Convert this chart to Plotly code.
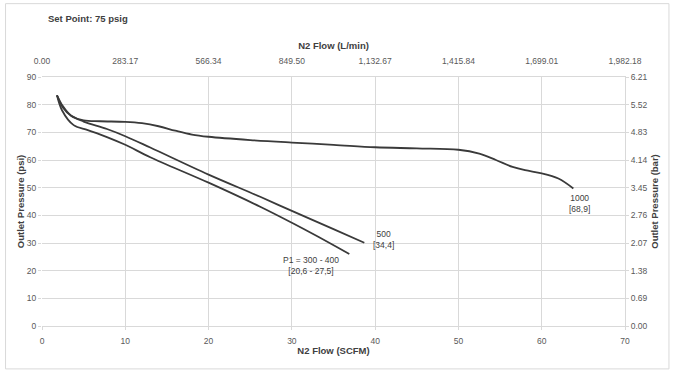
import plotly.graph_objects as go

# ---- data ----
scfm_1000 = [1.8, 2.5, 3.5, 5.0, 7.0, 10.0, 12.0, 14.0, 16.0, 18.0, 20.0, 25.0, 30.0, 35.0, 40.0, 45.0, 50.0, 52.5, 54.5, 56.5, 58.0, 60.0, 62.0, 63.8]
psi_1000 = [83.4, 79.0, 76.0, 74.3, 74.0, 73.8, 73.3, 72.2, 70.6, 69.2, 68.4, 67.2, 66.3, 65.5, 64.6, 64.2, 63.7, 62.3, 60.0, 57.5, 56.3, 55.2, 53.3, 49.7]

scfm_500 = [1.8, 2.5, 3.5, 5.0, 7.8, 10.0, 13.0, 20.0, 26.2, 30.0, 35.0, 38.7]
psi_500 = [83.4, 79.5, 76.0, 73.9, 71.2, 68.6, 64.5, 54.7, 46.7, 41.6, 35.0, 30.1]

scfm_p1 = [1.8, 2.4, 3.8, 5.5, 7.8, 10.0, 13.0, 20.0, 26.2, 30.0, 33.0, 36.9]
psi_p1 = [83.4, 78.0, 72.6, 70.8, 68.3, 65.5, 61.0, 51.8, 43.1, 37.3, 32.5, 26.0]

x_ticks = [0, 10, 20, 30, 40, 50, 60, 70]
lpm_ticks = [0.00, 283.17, 566.34, 849.50, 1132.67, 1415.84, 1699.01, 1982.18]
lpm_labels = ["0.00", "283.17", "566.34", "849.50", "1,132.67", "1,415.84", "1,699.01", "1,982.18"]
y_ticks = [0, 10, 20, 30, 40, 50, 60, 70, 80, 90]
bar_ticks = [0.00, 0.69, 1.38, 2.07, 2.76, 3.45, 4.14, 4.83, 5.52, 6.21]
bar_labels = ["0.00", "0.69", "1.38", "2.07", "2.76", "3.45", "4.14", "4.83", "5.52", "6.21"]

curve_labels = ["P1 = 300 - 400<br>[20,6 - 27,5]", "500<br>[34,4]", "1000<br>[68,9]"]

FONT = "Liberation Sans Narrow, Arial Narrow, Liberation Sans, sans-serif"
GRID = "#d9d9d9"
TXT = "#595959"
LINE = "#3a3a3a"

fig = go.Figure()
for xs, ys in [(scfm_1000, psi_1000), (scfm_500, psi_500), (scfm_p1, psi_p1)]:
    fig.add_trace(go.Scatter(x=xs, y=ys, mode="lines", line=dict(color=LINE, width=1.8, shape="spline", smoothing=1.0),
                             showlegend=False, hoverinfo="skip"))
# invisible trace to carry the secondary axes
fig.add_trace(go.Scatter(x=[lpm_ticks[0], lpm_ticks[-1]], y=[bar_ticks[0], bar_ticks[-1]], xaxis="x2", yaxis="y2",
                         mode="lines", line=dict(width=0), opacity=0, showlegend=False, hoverinfo="skip"))

lab_font = dict(size=8.5, color="#404040", family=FONT)
fig.add_annotation(x=32.3, y=22.0, text=curve_labels[0], showarrow=False, font=lab_font)
fig.add_annotation(x=41.0, y=31.2, text=curve_labels[1], showarrow=False, font=lab_font)
fig.add_annotation(x=64.5, y=44.2, text=curve_labels[2], showarrow=False, font=lab_font)

fig.add_annotation(xref="paper", yref="paper", x=(46 - 41.5) / 583.5, y=(326 - 18) / 249.5, xanchor="left", yanchor="middle",
                   text="<b>Set Point: 75 psig</b>", showarrow=False, font=dict(size=9.5, color="#404040", family=FONT))

tf = dict(size=8.5, color=TXT, family=FONT)
ttl = dict(size=9.5, color="#404040", family=FONT)

fig.update_layout(
    width=685, height=371,
    margin=dict(l=41.5, r=60, t=76.5, b=45),
    paper_bgcolor="white", plot_bgcolor="white",
    font=dict(family=FONT, color=TXT),
    xaxis=dict(range=[0, 70], tickvals=x_ticks, showgrid=True, gridcolor=GRID, zeroline=False, showline=True,
               linecolor=GRID, ticks="outside", ticklen=3, tickcolor=GRID, tickfont=tf, automargin=False,
               ticklabelstandoff=4,
               title=dict(text="<b>N2 Flow (SCFM)</b>", font=ttl, standoff=2)),
    yaxis=dict(range=[0, 90], tickvals=y_ticks, showgrid=True, gridcolor=GRID, zeroline=False, showline=False,
               ticks="outside", ticklen=3, tickcolor=GRID, tickfont=tf, automargin=False,
               title=dict(text="<b>Outlet Pressure (psi)</b>", font=ttl, standoff=0)),
    xaxis2=dict(range=[0, 1982.18], tickvals=lpm_ticks, ticktext=lpm_labels, overlaying="x", side="top",
                showgrid=False, zeroline=False, showline=True, linecolor=GRID, ticks="inside", ticklen=3, tickcolor=GRID,
                tickfont=tf, automargin=False, ticklabelstandoff=9,
                title=dict(text="<b>N2 Flow (L/min)</b>", font=ttl, standoff=4)),
    yaxis2=dict(range=[0, 6.21], tickvals=bar_ticks, ticktext=bar_labels, overlaying="y", side="right",
                showgrid=False, zeroline=False, showline=True, linecolor=GRID, ticks="outside", ticklen=3, tickcolor=GRID,
                tickfont=tf, automargin=False,
                title=dict(text="<b>Outlet Pressure (bar)</b>", font=ttl, standoff=4)),
)

# chart-area border
fig.add_shape(type="rect", xref="paper", yref="paper",
              x0=(5 - 41.5) / 583.5, x1=(669 - 41.5) / 583.5, y0=(326 - 369) / 249.5, y1=(326 - 3) / 249.5,
              line=dict(color=GRID, width=1), fillcolor="rgba(0,0,0,0)", layer="below")

fig.write_html("out.html", config={"displayModeBar": False},
               post_script="document.body.style.margin='0';")
